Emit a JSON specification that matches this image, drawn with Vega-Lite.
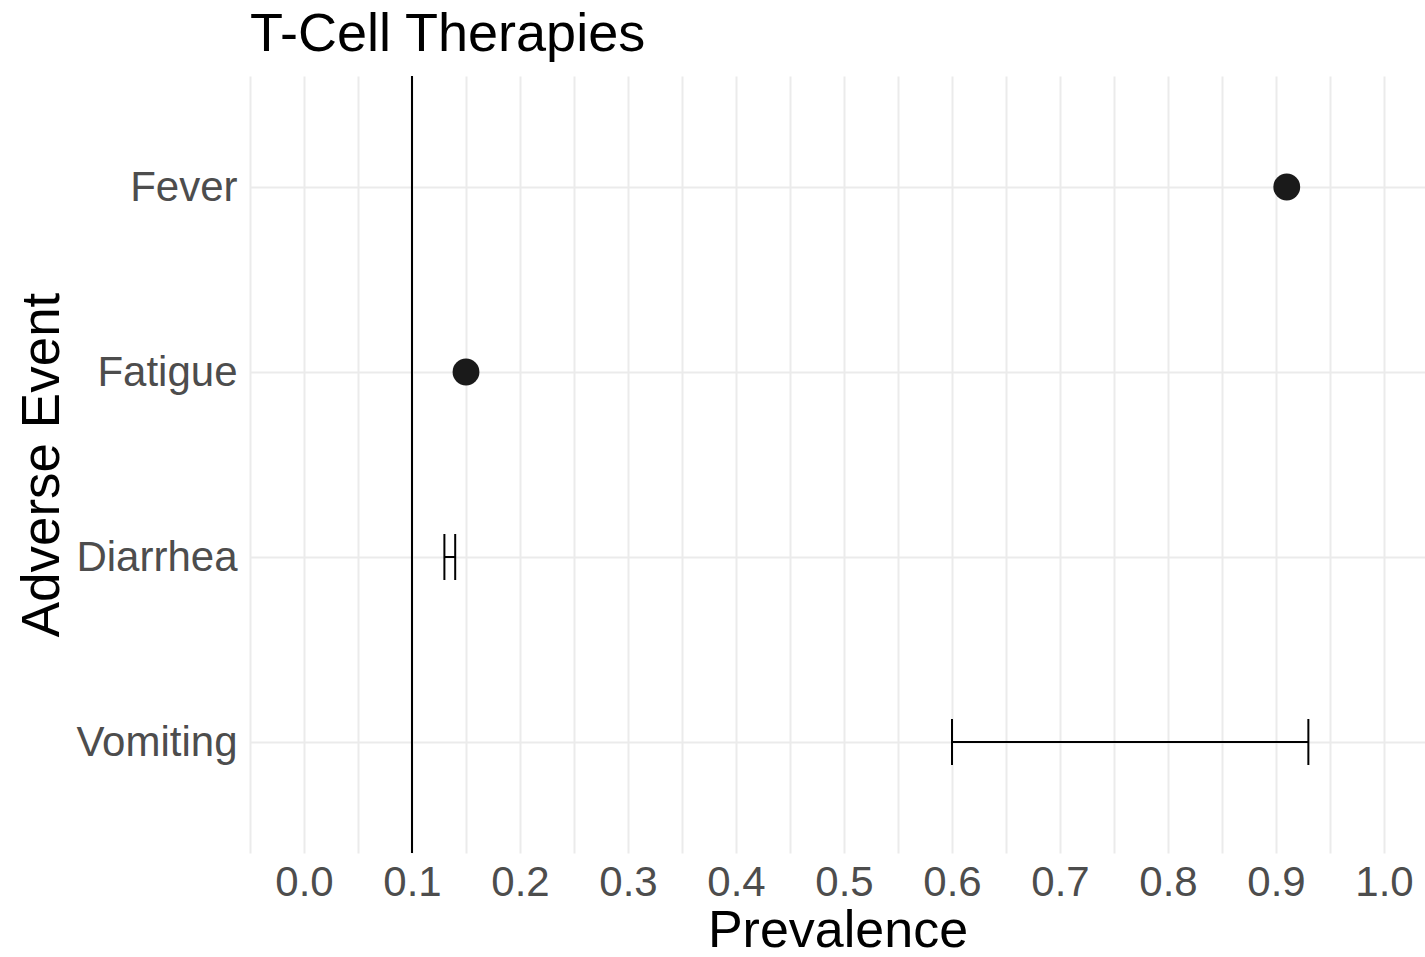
{
  "$schema": "https://vega.github.io/schema/vega-lite/v6.json",
  "autosize": {"type": "none"},
  "padding": {"left": 250, "top": 76, "right": 0, "bottom": 104},
  "width": 1175,
  "height": 777,
  "background": "white",
  "config": {
    "view": {"stroke": null},
    "font": "Liberation Sans"
  },
  "title": {
    "text": "T-Cell Therapies",
    "anchor": "start",
    "frame": "group",
    "fontSize": 54,
    "fontWeight": "normal",
    "color": "#000000",
    "font": "Liberation Sans",
    "baseline": "bottom",
    "offset": 12,
    "dy": 53
  },
  "data": {
    "values": [
      {"event": "Fever", "value": 0.91, "lower": null, "upper": null},
      {"event": "Fatigue", "value": 0.15, "lower": null, "upper": null},
      {"event": "Diarrhea", "value": null, "lower": 0.13, "upper": 0.14},
      {"event": "Vomiting", "value": null, "lower": 0.60, "upper": 0.93}
    ]
  },
  "encoding": {
    "y": {
      "field": "event",
      "type": "nominal",
      "sort": ["Fever", "Fatigue", "Diarrhea", "Vomiting"],
      "scale": {"type": "point", "padding": 0.6},
      "axis": {
        "title": "Adverse Event",
        "titleFontSize": 53,
        "titleFontWeight": "normal",
        "titleColor": "#000000",
        "titlePadding": 6,
        "labelFontSize": 42,
        "labelColor": "#4d4d4d",
        "labelPadding": 13,
        "ticks": false,
        "domain": false,
        "grid": true,
        "gridColor": "#ebebeb",
        "gridWidth": 2
      }
    }
  },
  "layer": [
    {
      "mark": {"type": "rule", "color": "#000000", "strokeWidth": 2},
      "encoding": {
        "x": {
          "datum": 0.1,
          "type": "quantitative",
          "scale": {"domain": [-0.05, 1.038], "nice": false, "zero": false},
          "axis": {
            "title": "Prevalence",
            "titleFontSize": 52,
            "titleFontWeight": "normal",
            "titleColor": "#000000",
            "titlePadding": 2,
            "values": [-0.05, 0, 0.05, 0.1, 0.15, 0.2, 0.25, 0.3, 0.35, 0.4, 0.45, 0.5, 0.55, 0.6, 0.65, 0.7, 0.75, 0.8, 0.85, 0.9, 0.95, 1.0],
            "labelExpr": "round(datum.value*20) % 2 == 0 ? format(datum.value, '.1f') : ''",
            "labelFontSize": 42,
            "labelColor": "#4d4d4d",
            "labelPadding": 9,
            "labelOverlap": false,
            "ticks": false,
            "domain": false,
            "grid": true,
            "gridColor": "#ebebeb",
            "gridWidth": 2
          }
        },
        "y": null
      }
    },
    {
      "transform": [{"filter": "datum.lower != null"}],
      "mark": {"type": "rule", "color": "#000000", "strokeWidth": 2},
      "encoding": {
        "x": {"field": "lower", "type": "quantitative"},
        "x2": {"field": "upper"}
      }
    },
    {
      "transform": [{"filter": "datum.lower != null"}],
      "mark": {"type": "tick", "color": "#000000", "thickness": 2, "size": 46, "opacity": 1},
      "encoding": {
        "x": {"field": "lower", "type": "quantitative"}
      }
    },
    {
      "transform": [{"filter": "datum.upper != null"}],
      "mark": {"type": "tick", "color": "#000000", "thickness": 2, "size": 46, "opacity": 1},
      "encoding": {
        "x": {"field": "upper", "type": "quantitative"}
      }
    },
    {
      "transform": [{"filter": "datum.value != null"}],
      "mark": {"type": "circle", "color": "#1a1a1a", "opacity": 1, "size": 720},
      "encoding": {
        "x": {"field": "value", "type": "quantitative"}
      }
    }
  ]
}
